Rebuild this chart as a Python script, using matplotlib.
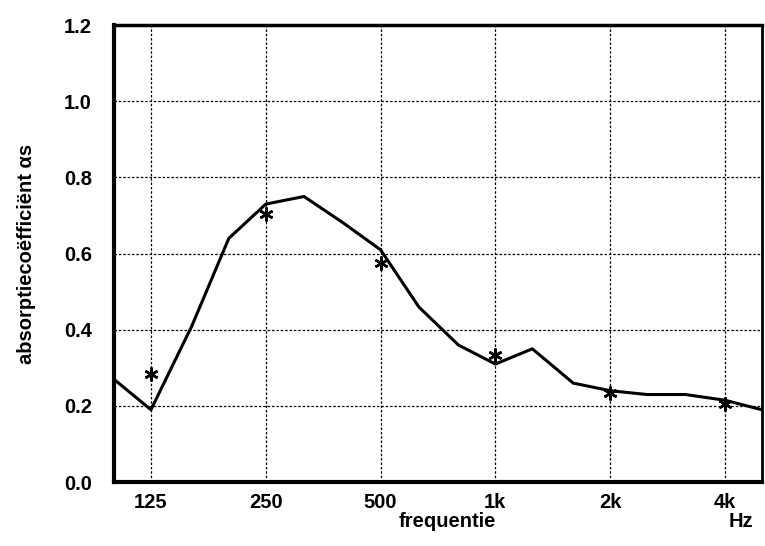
import matplotlib
matplotlib.use("Agg")
from matplotlib import pyplot as plt
from matplotlib.ticker import NullLocator

# tertsbanden (Hz) en gemeten absorptiecoefficient
freq = [100, 125, 160, 200, 250, 315, 400, 500, 630, 800,
        1000, 1250, 1600, 2000, 2500, 3150, 4000, 5000]
alpha = [0.27, 0.19, 0.41, 0.64, 0.73, 0.75, 0.68, 0.61, 0.46, 0.36,
         0.31, 0.35, 0.26, 0.24, 0.23, 0.23, 0.215, 0.19]

# octaafwaarden (sterretjes)
oct_freq = [125, 250, 500, 1000, 2000, 4000]
oct_alpha = [0.285, 0.705, 0.575, 0.335, 0.235, 0.205]
oct_labels = ["125", "250", "500", "1k", "2k", "4k"]

y_ticks = [0.0, 0.2, 0.4, 0.6, 0.8, 1.0, 1.2]

plt.rcParams['font.family'] = ['Liberation Sans', 'DejaVu Sans']
plt.rcParams['font.weight'] = 'bold'

fig = plt.figure(figsize=(7.65, 5.46), dpi=100)
ax = fig.add_axes([0.149, 0.117, 0.847, 0.837])

ax.plot(freq, alpha, color='black', lw=2.2, zorder=3)
ax.plot(oct_freq, oct_alpha, ls='none', marker=(6, 2, 0), ms=10,
        mew=1.8, color='black', zorder=4)

ax.set_xscale('log')
ax.set_xlim(100, 5000)
ax.set_ylim(0, 1.2)
ax.set_xticks(oct_freq)
ax.set_xticklabels(oct_labels)
ax.xaxis.set_minor_locator(NullLocator())
ax.set_yticks(y_ticks)
ax.set_yticklabels([f"{v:.1f}" for v in y_ticks])
ax.tick_params(length=0, labelsize=14.5, pad=8)
ax.tick_params(axis='y', pad=16)
for lab in ax.get_xticklabels() + ax.get_yticklabels():
    lab.set_fontweight('bold')

ax.grid(True, ls=(0, (2, 1.5)), lw=0.9, color='black')

for side, w in [('left', 3), ('bottom', 3), ('top', 2.5), ('right', 2)]:
    ax.spines[side].set_linewidth(w)

ax.set_ylabel("absorptiecoëfficiënt αs", fontsize=14.5, fontweight='bold',
              labelpad=20)
fig.text(0.585, 0.045, "frequentie", ha='center', va='center',
         fontsize=14.5, fontweight='bold')
fig.text(0.968, 0.044, "Hz", ha='center', va='center',
         fontsize=14.5, fontweight='bold')

fig.savefig("out.png", dpi=100)
